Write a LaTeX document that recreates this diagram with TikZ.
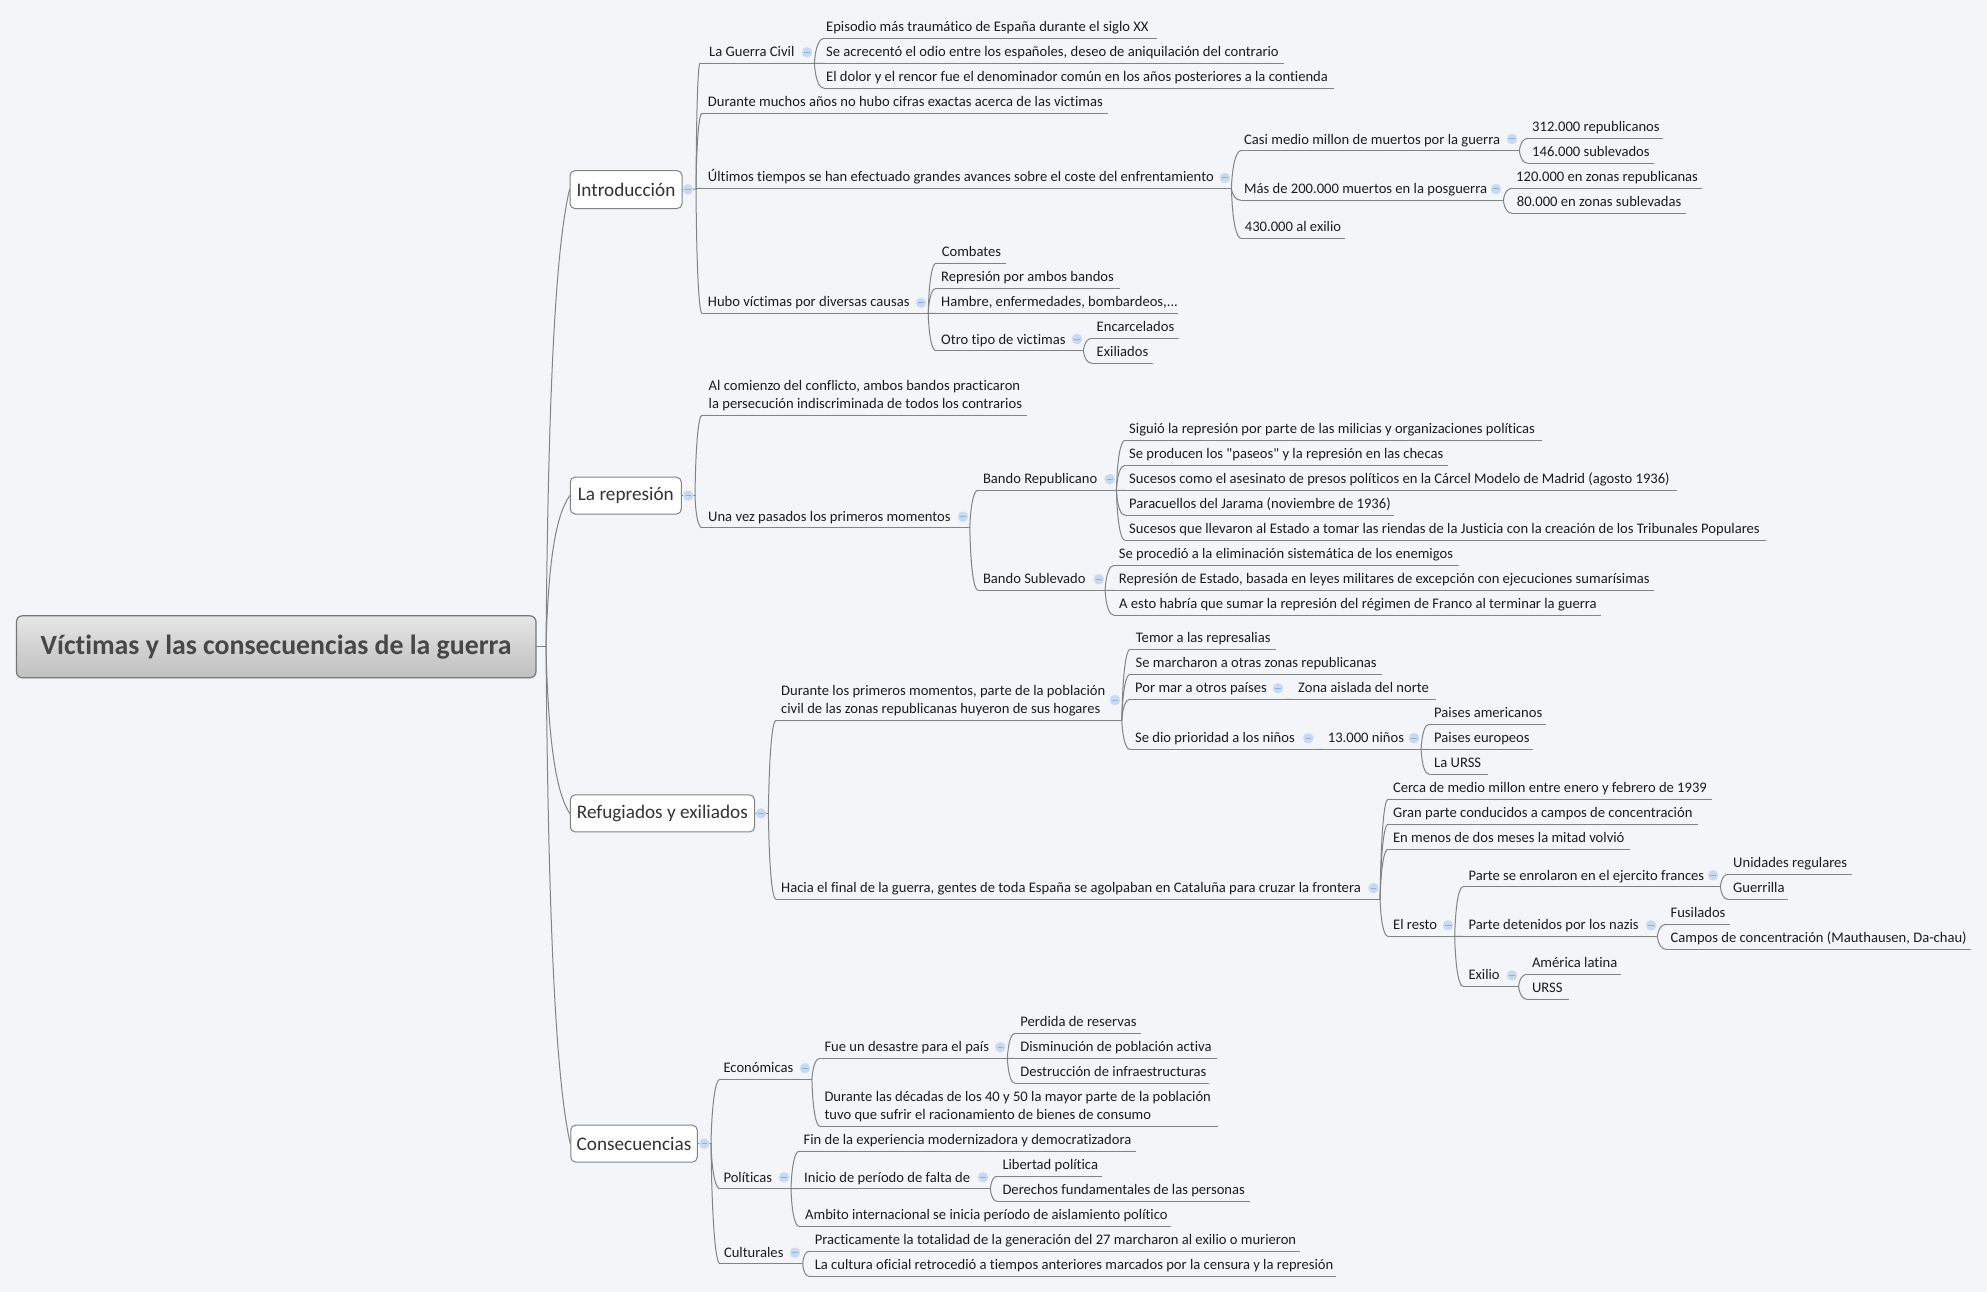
\documentclass[tikz,border=0pt]{standalone}
\usepackage{fontspec}
\usetikzlibrary{calc}
\newfontfamily\mainf[Ligatures=NoCommon]{Carlito}
\definecolor{bgc}{HTML}{F3F5F9}
\definecolor{linec}{HTML}{808487}
\definecolor{txtc}{HTML}{1C1C1C}
\definecolor{icf}{HTML}{C9D9EF}
\definecolor{icm}{HTML}{8FAEDA}
\tikzset{
 mitem/.style={inner sep=0pt,anchor=south west,text depth=6.2pt,text height=11pt,text=txtc,font=\mainf\fontsize{14.6}{18}\selectfont},
 mitemii/.style={mitem,text height=29pt},
 uline/.style={draw=linec,line width=1pt},
 link/.style={draw=linec,line width=1pt,line cap=round},
 topic/.style={draw=linec,line width=1pt,fill=white,rounded corners=5pt,inner sep=0pt,text=txtc!90,font=\mainf\fontsize{19.2}{24}\selectfont},
 rootbox/.style={draw=linec!90!black,line width=1.2pt,rounded corners=6pt,top color=gray!20,bottom color=gray!50,inner sep=0pt,text=black!72,font=\mainf\bfseries\fontsize{27.8}{32}\selectfont},
 iconn/.style={circle,fill=icf,inner sep=0pt,minimum size=10.5pt},
}
\newcommand\mitemn[6]{\pgfmathsetmacro\Wd{#3-#2}\pgfmathsetmacro\Of{#5-#2}%
 \node[mitem] (#1) at (#2,#4) {\makebox[\Wd pt][l]{\hspace*{\Of pt}#6}};%
 \draw[uline] (#1.south west) -- (#1.south east);}
\newcommand\mitemt[7]{\pgfmathsetmacro\Wd{#3-#2}\pgfmathsetmacro\Of{#5-#2}%
 \node[mitemii] (#1) at (#2,#4) {\makebox[\Wd pt][l]{\hspace*{\Of pt}\begin{tabular}[b]{@{}l@{}}#6\\#7\end{tabular}}};%
 \draw[uline] (#1.south west) -- (#1.south east);}
\newcommand\cn[2]{\draw[link] let \p1=(#1.south east),\p2=(#2.south west) in (\p1) .. controls (0.9*\x1+0.1*\x2,0.35*\y1+0.65*\y2) and (0.5*\x1+0.5*\x2,\y2) .. (\p2);}
\newcommand\cnc[2]{\draw[link] let \p1=(#1),\p2=(#2.south west) in (\p1) .. controls (0.9*\x1+0.1*\x2,0.35*\y1+0.65*\y2) and (0.5*\x1+0.5*\x2,\y2) .. (\p2);}
\newcommand\tcn[2]{\draw[link] let \p1=(#1),\p2=(#2.west) in (\p1) .. controls (0.9*\x1+0.1*\x2,0.4*\y1+0.6*\y2) and (0.55*\x1+0.45*\x2,0.12*\y1+0.88*\y2) .. (\p2);}
\newcommand\ic[3]{\node[iconn] (#1) at (#2,#3) {};\draw[icm,line width=1pt] ($(#1.center)+(-2.8pt,0)$) -- ($(#1.center)+(2.8pt,0)$);}
\begin{document}
\begin{tikzpicture}[x=1pt,y=-1pt]
\useasboundingbox (0,0) rectangle (1987,1292);
\fill[bgc] (0,0) rectangle (1987,1292);
% root and topics
\node[rootbox,minimum width=519.5pt,minimum height=62pt] (root) at (276.2,646.8) {Víctimas y las consecuencias de la guerra};
\node[topic,minimum width=112pt,minimum height=38pt] (intro) at (626,189.6) {Introducción};
\node[topic,minimum width=111pt,minimum height=37pt] (repr) at (625.8,495.6) {La represión};
\node[topic,minimum width=184.3pt,minimum height=37pt] (refu) at (662.4,813.4) {Refugiados y exiliados};
\node[topic,minimum width=126.5pt,minimum height=37pt] (cons) at (634,1143.6) {Consecuencias};
\coordinate (rootT) at (546,646.8);
\coordinate (introT) at (696,189);
\coordinate (reprT) at (695,495.6);
\coordinate (refuT) at (768.4,813.4);
\coordinate (consT) at (711,1143.6);
\draw[link] (root.east) -- (rootT);
\draw[link] (intro.east) -- (introT);
\draw[link] (repr.east) -- (reprT);
\draw[link] (refu.east) -- (refuT);
\draw[link] (cons.east) -- (consT);
\tcn{rootT}{intro}\tcn{rootT}{repr}\tcn{rootT}{refu}\tcn{rootT}{cons}
% Introduccion
\mitemn{gc}{700}{814}{63.3}{709}{La Guerra Civil}
\mitemn{e1}{824}{1157}{38.3}{826}{Episodio más traumático de España durante el siglo XX}
\mitemn{e2}{824}{1283.6}{63.3}{826}{Se acrecentó el odio entre los españoles, deseo de aniquilación del contrario}
\mitemn{e3}{824}{1334}{88.3}{826}{El dolor y el rencor fue el denominador común en los años posteriores a la contienda}
\mitemn{dm}{702}{1107.7}{113.3}{707.7}{Durante muchos años no hubo cifras exactas acerca de las victimas}
\mitemn{ul}{702}{1231}{188.3}{707.7}{Últimos tiempos se han efectuado grandes avances sobre el coste del enfrentamiento}
\mitemn{casi}{1241}{1519}{150.7}{1244}{Casi medio millon de muertos por la guerra}
\mitemn{c312}{1528}{1662.7}{138.3}{1532}{312.000 republicanos}
\mitemn{c146}{1528}{1654}{163.3}{1532}{146.000 sublevados}
\mitemn{mas}{1241}{1503}{200.3}{1244}{Más de 200.000 muertos en la posguerra}
\mitemn{m120}{1512}{1701.7}{188.3}{1516}{120.000 en zonas republicanas}
\mitemn{m80}{1512}{1686}{213.3}{1516.7}{80.000 en zonas sublevadas}
\mitemn{a430}{1241}{1345}{238.3}{1244.7}{430.000 al exilio}
\mitemn{hubo}{702}{927.8}{313.3}{707.7}{Hubo víctimas por diversas causas}
\mitemn{comb}{936}{1006}{263.3}{941.6}{Combates}
\mitemn{ramb}{936}{1119.7}{288.3}{941}{Represión por ambos bandos}
\mitemn{hamb}{936}{1177.8}{313.3}{941}{Hambre, enfermedades, bombardeos,...}
\mitemn{otro}{936}{1083}{350.7}{941}{Otro tipo de victimas}
\mitemn{enc}{1092}{1178.7}{338.3}{1096.5}{Encarcelados}
\mitemn{exi}{1092}{1153}{363.3}{1096.5}{Exiliados}
\cnc{introT}{gc}\cnc{introT}{dm}\cnc{introT}{ul}\cnc{introT}{hubo}
\cn{gc}{e1}\cn{gc}{e2}\cn{gc}{e3}
\cn{ul}{casi}\cn{ul}{mas}\cn{ul}{a430}
\cn{casi}{c312}\cn{casi}{c146}\cn{mas}{m120}\cn{mas}{m80}
\cn{hubo}{comb}\cn{hubo}{ramb}\cn{hubo}{hamb}\cn{hubo}{otro}
\cn{otro}{enc}\cn{otro}{exi}
% La represion
\mitemt{alc}{702}{1026.6}{415.3}{708.5}{Al comienzo del conflicto, ambos bandos practicaron}{la persecución indiscriminada de todos los contrarios}
\mitemn{una}{702}{969.4}{527.7}{708}{Una vez pasados los primeros momentos}
\mitemn{brep}{978}{1116}{490.3}{982.8}{Bando Republicano}
\mitemn{bsub}{978}{1104.7}{590.3}{982.8}{Bando Sublevado}
\mitemn{s1}{1125}{1542}{440.3}{1129}{Siguió la represión por parte de las milicias y organizaciones políticas}
\mitemn{s2}{1125}{1448}{465.3}{1129}{Se producen los "paseos" y la represión en las checas}
\mitemn{s3}{1125}{1676.8}{490.3}{1129}{Sucesos como el asesinato de presos políticos en la Cárcel Modelo de Madrid (agosto 1936)}
\mitemn{s4}{1125}{1393.7}{515.3}{1129}{Paracuellos del Jarama (noviembre de 1936)}
\mitemn{s5}{1125}{1766}{540.3}{1129}{Sucesos que llevaron al Estado a tomar las riendas de la Justicia con la creación de los Tribunales Populares}
\mitemn{b1}{1114}{1459}{565.3}{1118.7}{Se procedió a la eliminación sistemática de los enemigos}
\mitemn{b2}{1114}{1653.6}{590.3}{1118.7}{Represión de Estado, basada en leyes militares de excepción con ejecuciones sumarísimas}
\mitemn{b3}{1114}{1601}{615.3}{1119}{A esto habría que sumar la represión del régimen de Franco al terminar la guerra}
\cnc{reprT}{alc}\cnc{reprT}{una}
\cn{una}{brep}\cn{una}{bsub}
\cn{brep}{s1}\cn{brep}{s2}\cn{brep}{s3}\cn{brep}{s4}\cn{brep}{s5}
\cn{bsub}{b1}\cn{bsub}{b2}\cn{bsub}{b3}
% Refugiados
\mitemt{dur}{776}{1121.4}{720.3}{781}{Durante los primeros momentos, parte de la población}{civil de las zonas republicanas huyeron de sus hogares}
\mitemn{hac}{776}{1379.7}{899.3}{781}{Hacia el final de la guerra, gentes de toda España se agolpaban en Cataluña para cruzar la frontera}
\mitemn{tem}{1130}{1275.3}{649.3}{1135.7}{Temor a las represalias}
\mitemn{mar}{1130}{1381.7}{674.3}{1135.5}{Se marcharon a otras zonas republicanas}
\mitemn{pmar}{1130}{1285}{699.3}{1135}{Por mar a otros países}
\mitemn{zona}{1292}{1436}{699.3}{1298}{Zona aislada del norte}
\mitemn{dio}{1130}{1315}{749.3}{1135}{Se dio prioridad a los niños}
\mitemn{n13}{1322}{1420.7}{749.3}{1327.7}{13.000 niños}
\mitemn{pam}{1429}{1546}{724.3}{1434}{Paises americanos}
\mitemn{peu}{1429}{1533}{749.3}{1434}{Paises europeos}
\mitemn{urs}{1429}{1487.7}{774.3}{1434}{La URSS}
\mitemn{cer}{1388}{1711.8}{799.3}{1392.8}{Cerca de medio millon entre enero y febrero de 1939}
\mitemn{gra}{1388}{1698}{824.3}{1393}{Gran parte conducidos a campos de concentración}
\mitemn{enm}{1388}{1629.7}{849.3}{1392.8}{En menos de dos meses la mitad volvió}
\mitemn{res}{1388}{1454.3}{936.3}{1393}{El resto}
\mitemn{pse}{1463}{1720}{886.7}{1468.3}{Parte se enrolaron en el ejercito frances}
\mitemn{pde}{1463}{1657}{936.3}{1468.3}{Parte detenidos por los nazis}
\mitemn{exl}{1463}{1518.2}{986.3}{1468.3}{Exilio}
\mitemn{uni}{1728}{1851.5}{874.3}{1733}{Unidades regulares}
\mitemn{gue}{1728}{1787.7}{899.3}{1733}{Guerrilla}
\mitemn{fus}{1666}{1729.6}{924.3}{1670.4}{Fusilados}
\mitemn{cam}{1666}{1970.4}{949.3}{1670.4}{Campos de concentración (Mauthausen, Da-chau)}
\mitemn{ame}{1527}{1620.8}{974.3}{1531.8}{América latina}
\mitemn{urr}{1527}{1569}{999.3}{1531.8}{URSS}
\cnc{refuT}{dur}\cnc{refuT}{hac}
\cn{dur}{tem}\cn{dur}{mar}\cn{dur}{pmar}\cn{dur}{dio}
\cn{pmar}{zona}\cn{dio}{n13}
\cn{n13}{pam}\cn{n13}{peu}\cn{n13}{urs}
\cn{hac}{cer}\cn{hac}{gra}\cn{hac}{enm}\cn{hac}{res}
\cn{res}{pse}\cn{res}{pde}\cn{res}{exl}
\cn{pse}{uni}\cn{pse}{gue}\cn{pde}{fus}\cn{pde}{cam}\cn{exl}{ame}\cn{exl}{urr}
% Consecuencias
\mitemn{eco}{720}{811.5}{1079.3}{723.3}{Económicas}
\mitemn{pol}{720}{790.6}{1188.7}{723.3}{Políticas}
\mitemn{cul}{720}{802.3}{1263.7}{723.8}{Culturales}
\mitemn{fue}{820}{1007}{1058.3}{824.3}{Fue un desastre para el país}
\mitemt{dec}{820}{1218}{1126.3}{824.3}{Durante las décadas de los 40 y 50 la mayor parte de la población}{tuvo que sufrir el racionamiento de bienes de consumo}
\mitemn{per}{1015}{1140.6}{1033.3}{1020.2}{Perdida de reservas}
\mitemn{dis}{1015}{1217}{1058.3}{1020.2}{Disminución de población activa}
\mitemn{des}{1015}{1209}{1083.3}{1020.2}{Destrucción de infraestructuras}
\mitemn{fin}{799}{1135.5}{1151.3}{803.4}{Fin de la experiencia modernizadora y democratizadora}
\mitemn{ini}{799}{990}{1188.7}{804}{Inicio de período de falta de}
\mitemn{lib}{997}{1101.8}{1176.3}{1002.3}{Libertad política}
\mitemn{der}{997}{1249.3}{1201.3}{1002.3}{Derechos fundamentales de las personas}
\mitemn{amb}{799}{1171}{1226.3}{805}{Ambito internacional se inicia período de aislamiento político}
\mitemn{pra}{809}{1299.3}{1251.3}{814.6}{Practicamente la totalidad de la generación del 27 marcharon al exilio o murieron}
\mitemn{lac}{809}{1335.5}{1276.3}{814.6}{La cultura oficial retrocedió a tiempos anteriores marcados por la censura y la represión}
\cnc{consT}{eco}\cnc{consT}{pol}\cnc{consT}{cul}
\cn{eco}{fue}\cn{eco}{dec}
\cn{fue}{per}\cn{fue}{dis}\cn{fue}{des}
\cn{pol}{fin}\cn{pol}{ini}\cn{pol}{amb}
\cn{ini}{lib}\cn{ini}{der}
\cn{cul}{pra}\cn{cul}{lac}
% collapse markers
\ic{iintro}{688}{189.4}\ic{irepr}{688.3}{495.6}\ic{irefu}{761}{813.4}\ic{icons}{704.4}{1143.6}
\ic{igc}{807}{52.3}\ic{iul}{1225}{178}\ic{icasi}{1512}{139}\ic{imas}{1496}{189}\ic{ihubo}{921}{302.7}\ic{iotro}{1077}{339}
\ic{iuna}{963}{516.7}\ic{ibrep}{1109.7}{479.3}\ic{ibsub}{1098.8}{579.3}
\ic{idur}{1115}{700}\ic{ihac}{1373.4}{888}\ic{ipmar}{1278}{688.3}\ic{idio}{1308.3}{738.3}\ic{in13}{1414}{738.3}
\ic{ires}{1448}{925.3}\ic{ipse}{1713}{875.3}\ic{ipde}{1651}{925.3}\ic{iexl}{1512}{975.3}
\ic{ieco}{805}{1068.3}\ic{ipol}{784}{1177.3}\ic{icul}{795}{1252.7}\ic{ifue}{1000.3}{1047.3}\ic{iini}{983}{1177.3}
\end{tikzpicture}
\end{document}
